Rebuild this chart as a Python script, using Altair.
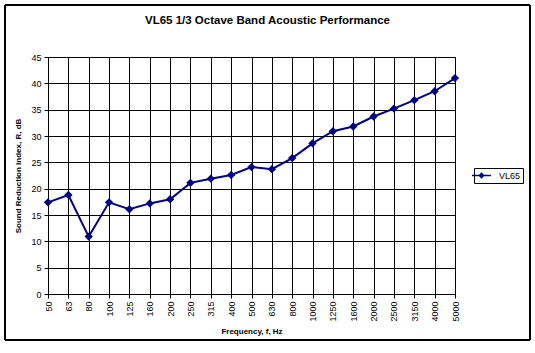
import altair as alt
import pandas as pd

freqs = ["50", "63", "80", "100", "125", "160", "200", "250", "315", "400",
         "500", "630", "800", "1000", "1250", "1600", "2000", "2500", "3150", "4000", "5000"]
values = [17.4, 18.8, 10.9, 17.4, 16.1, 17.2, 18.0, 21.1, 21.9, 22.6,
          24.1, 23.7, 25.8, 28.6, 30.9, 31.8, 33.7, 35.2, 36.8, 38.5, 41.0]
series = ["VL65"] * len(freqs)

df = pd.DataFrame({"freq": freqs, "R": values, "series": series})

FONT = "Liberation Sans"
NAVY = "#000080"

x = alt.X("freq:N", sort=freqs, scale=alt.Scale(type="point", padding=0),
          axis=alt.Axis(title="Frequency, f, Hz", titleFontSize=8, titleFontWeight="bold",
                        titleFont=FONT, titleColor="black", titlePadding=6,
                        labelAngle=270, labelAlign="right", labelBaseline="middle",
                        labelFontSize=9, labelFont=FONT, labelColor="black", labelPadding=3,
                        tickColor="black", tickSize=4, domainColor="black",
                        grid=True, gridColor="black", gridOpacity=1, gridWidth=1))
y = alt.Y("R:Q", scale=alt.Scale(domain=[0, 45], nice=False),
          axis=alt.Axis(title="Sound Reduction Index, R, dB", titleFontSize=8,
                        titleFontWeight="bold", titleFont=FONT, titleColor="black",
                        titlePadding=8, values=list(range(0, 50, 5)),
                        labelFontSize=9, labelFont=FONT, labelColor="black", labelPadding=3,
                        tickColor="black", tickSize=4, domainColor="black",
                        grid=True, gridColor="black", gridOpacity=1, gridWidth=1))

color = alt.Color("series:N", scale=alt.Scale(range=[NAVY]),
                  legend=alt.Legend(title=None, orient="none", legendX=426, legendY=111,
                                    labelFont=FONT, labelFontSize=9, labelColor="black",
                                    strokeColor="black", padding=2, fillColor="white",
                                    symbolType="M-2,0H2M-0.45,0L0,-0.45L0.45,0L0,0.45Z",
                                    symbolSize=90, symbolStrokeWidth=1.5,
                                    symbolFillColor=NAVY, labelOffset=12))

line = alt.Chart(df).mark_line(color=NAVY, strokeWidth=2).encode(x=x, y=y, color=color)
pts = alt.Chart(df).mark_point(shape="diamond", filled=True, size=70, color=NAVY,
                               opacity=1).encode(x=x, y=y)

border = alt.Chart(df).mark_rect(fill=None, stroke="black", strokeWidth=1, clip=False).encode(
    x=alt.value(-43), x2=alt.value(482), y=alt.value(-52), y2=alt.value(283))

chart = alt.layer(border, line, pts).properties(
    width=407, height=237,
    title=alt.TitleParams("VL65 1/3 Octave Band Acoustic Performance", font=FONT,
                          fontSize=11.5, fontWeight="bold", color="black",
                          anchor="middle", dx=16, offset=-22),
    autosize=alt.AutoSizeParams(type="none"),
    padding={"left": 48, "top": 57, "right": 80, "bottom": 59},
    background="white",
).configure_view(stroke="#808080", strokeWidth=1)

chart.save("out.html", embed_options={"renderer": "svg", "actions": False})
